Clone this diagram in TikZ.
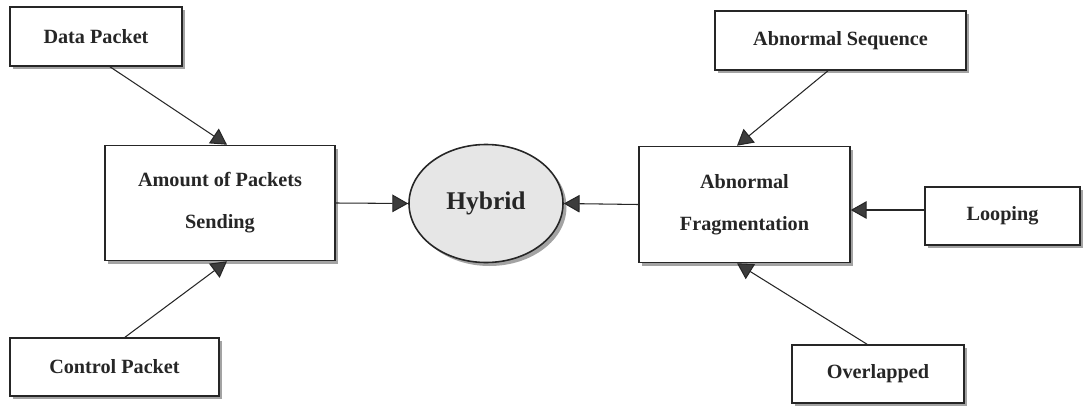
\documentclass[tikz,border=0pt]{standalone}
\usepackage{fontspec}
\setmainfont{Liberation Serif}
\usepackage{tikz}
\usetikzlibrary{shadows}
\usetikzlibrary{positioning}
\usetikzlibrary{arrows.meta,shapes}
\usetikzlibrary{calc}
\definecolor{inkgray}{HTML}{262626}
\definecolor{hybridfill}{HTML}{E6E6E6}
\tikzstyle{box}=[rectangle,draw=inkgray,line width=0.9pt,fill=white,align=center,inner sep=0pt,font=\fontsize{11.5}{24}\selectfont\bfseries,text=inkgray,drop shadow={shadow xshift=0.06cm,shadow yshift=-0.06cm,fill=black!45,opacity=0.8}]
\tikzstyle{hub}=[ellipse,draw=inkgray,line width=0.9pt,fill=hybridfill,inner sep=0pt,minimum width=3.08cm,minimum height=2.36cm,font=\fontsize{14.5}{17}\selectfont\bfseries,text=inkgray,drop shadow={shadow xshift=0.07cm,shadow yshift=-0.07cm,fill=black!45,opacity=0.8}]
\tikzstyle{edge}=[draw=inkgray,line width=0.6pt,-{Triangle[length=9pt,width=10pt,fill=inkgray!90]}]

\begin{document}
\begin{tikzpicture}
    % keep the page the size of the reference
    \useasboundingbox (0,0) rectangle (21.7,-8.14);

    % boxes on the left
    \node[box,minimum width=3.44cm,minimum height=1.18cm] (data) at (1.92,-0.73) {Data Packet};
    \node[box,minimum width=4.60cm,minimum height=2.30cm] (amount) at (4.40,-4.06) {Amount of Packets\\Sending};
    \node[box,minimum width=4.18cm,minimum height=1.16cm] (control) at (2.29,-7.34) {Control Packet};

    % the hub
    \node[hub] (hybrid) at (9.72,-4.07) {Hybrid};

    % boxes on the right
    \node[box,minimum width=4.22cm,minimum height=2.32cm] (frag) at (14.89,-4.09) {Abnormal\\Fragmentation};
    \node[box,minimum width=5.02cm,minimum height=1.18cm] (seq) at (16.81,-0.81) {Abnormal Sequence};
    \node[box,minimum width=3.10cm,minimum height=1.16cm] (loop) at (20.05,-4.32) {Looping};
    \node[box,minimum width=3.44cm,minimum height=1.16cm] (over) at (17.56,-7.48) {Overlapped};

    % connect the boxes
    \path[edge] ($(data.south)+(0.28,0)$) -- ($(amount.north)+(0.14,0)$);
    \path[edge] ($(control.north)+(0.21,0)$) -- ($(amount.south)+(0.14,0)$);
    \path[edge] (amount.east) -- (hybrid.west);
    \path[edge] (frag.west) -- (hybrid.east);
    \path[edge] ($(seq.south)+(-0.25,0)$) -- ($(frag.north)+(-0.15,0)$);
    \path[edge] ($(loop.west)+(0,0.12)$) coordinate (lp) -- (frag.east |- lp);
    \path[edge] ($(over.north)+(-0.22,0)$) -- ($(frag.south)+(-0.15,0)$);
\end{tikzpicture}
\end{document}
